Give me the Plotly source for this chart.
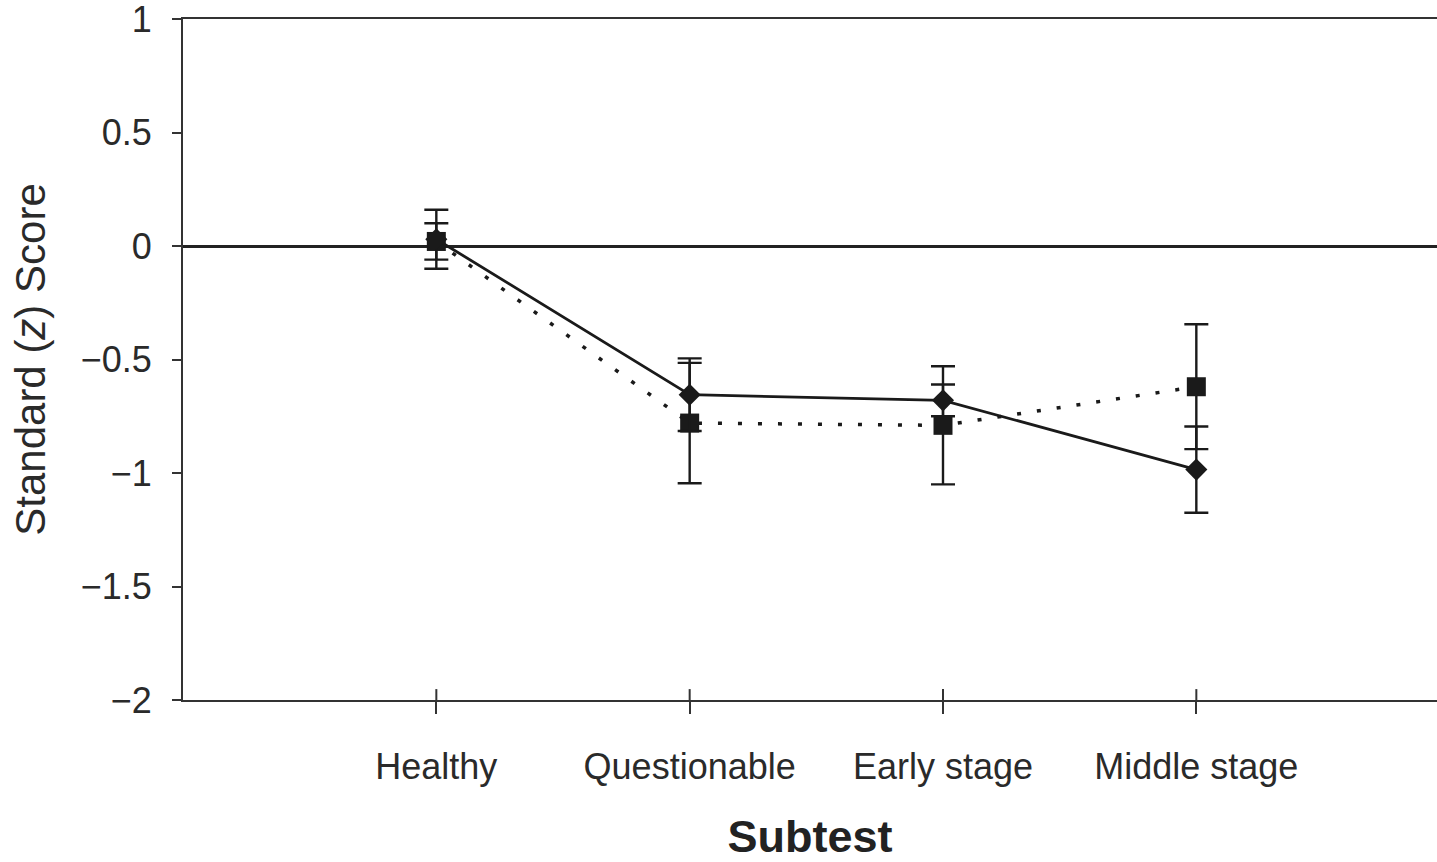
import plotly.graph_objects as go

categories = ["Healthy", "Questionable", "Early stage", "Middle stage"]
diamond_vals = [0.03, -0.655, -0.68, -0.985]
diamond_err = [0.13, 0.16, 0.07, 0.19]
square_vals = [0.02, -0.78, -0.79, -0.62]
square_err = [0.08, 0.265, 0.26, 0.275]

ink = "#1a1a1a"
fig = go.Figure()
fig.add_trace(go.Scatter(
    x=categories, y=square_vals, mode="lines+markers",
    line=dict(color=ink, width=3.5, dash="4px,16px"),
    marker=dict(symbol="square", size=19, color=ink),
    error_y=dict(type="data", array=square_err, color=ink, thickness=2.4, width=12),
    showlegend=False))
fig.add_trace(go.Scatter(
    x=categories, y=diamond_vals, mode="lines+markers",
    line=dict(color=ink, width=2.8),
    marker=dict(symbol="diamond", size=17, color=ink),
    error_y=dict(type="data", array=diamond_err, color=ink, thickness=2.4, width=12),
    showlegend=False))

# inner half of the crossing category ticks
for c in categories:
    fig.add_shape(type="line", xref="x", yref="y domain", x0=c, x1=c, y0=0, y1=0.016,
                  line=dict(color="#333", width=2))

fig.update_layout(
    width=1437, height=862,
    margin=dict(l=183, r=0, t=19, b=162),
    paper_bgcolor="white", plot_bgcolor="white",
    font=dict(family="Liberation Sans, Arial, sans-serif", color="#2a2a2a", size=36),
    xaxis=dict(
        type="category", range=[-1, 3.95],
        showline=True, linecolor="#333", linewidth=2, mirror=True,
        showgrid=False, zeroline=False,
        ticks="outside", ticklen=12, tickwidth=2, tickcolor="#333",
        ticklabelstandoff=22,
        title=dict(text="<b>Subtest</b>", font=dict(size=45, color="#222"), standoff=41),
    ),
    yaxis=dict(
        range=[-2, 1], tickvals=[-2, -1.5, -1, -0.5, 0, 0.5, 1],
        ticktext=["\u22122", "\u22121.5", "\u22121", "\u22120.5", "0", "0.5", "1"],
        showline=True, linecolor="#333", linewidth=2,
        showgrid=False, zeroline=True, zerolinecolor="#222", zerolinewidth=2.5,
        ticks="outside", ticklen=9, tickwidth=2, tickcolor="#333",
        ticklabelstandoff=13, ticklabeloverflow="allow",
        title=dict(text="Standard (<i>z</i>) Score", font=dict(size=42), standoff=22),
    ),
)
fig.write_html("out.html")
